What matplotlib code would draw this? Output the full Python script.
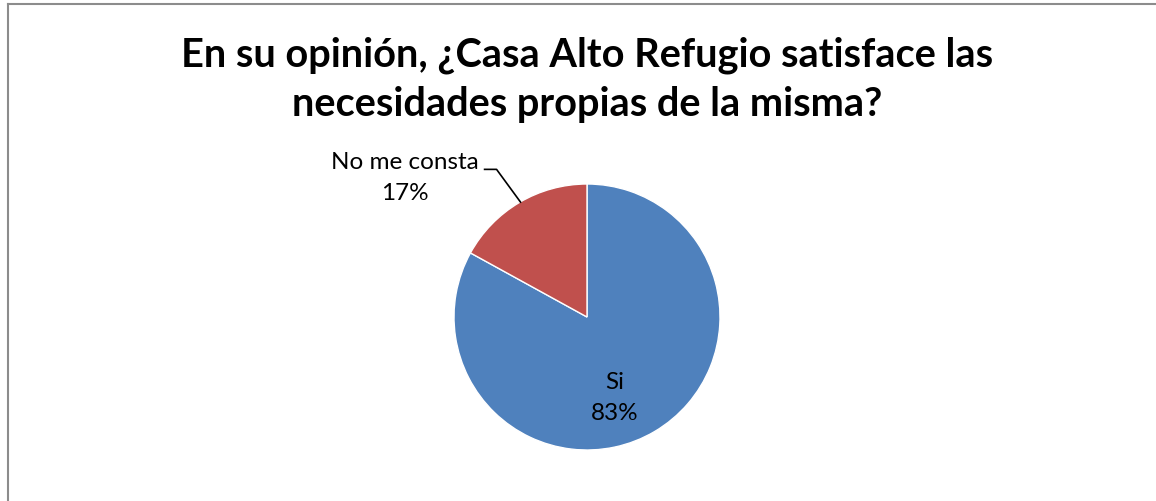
import matplotlib.pyplot as plt
from matplotlib.lines import Line2D

# datos
categorias = ['Si', 'No me consta']
porcentajes = [83, 17]
colores = ['#4F81BD', '#C0504D']
titulo = 'En su opinión, ¿Casa Alto Refugio satisface las\nnecesidades propias de la misma?'

plt.rcParams['font.family'] = ['Lato', 'DejaVu Sans']

fig = plt.figure(figsize=(11.56, 5.01), dpi=100)
fig.patch.set_facecolor('white')

# marco del grafico
fig.add_artist(Line2D([8/1156, 8/1156], [0, 1 - 4/501], color='#8c8c8c', lw=1.5))
fig.add_artist(Line2D([8/1156, 1], [1 - 4/501, 1 - 4/501], color='#8c8c8c', lw=1.5))

fig.text(0.508, 0.840, titulo, ha='center', va='center', fontsize=28.6,
         fontweight='bold', linespacing=1.4)

ax = fig.add_axes([(587 - 133) / 1156, (501 - 450) / 501, 266 / 1156, 266 / 501])
wedges, _ = ax.pie(porcentajes, colors=colores, startangle=90, counterclock=False,
                   wedgeprops=dict(edgecolor='white', linewidth=1))
ax.set_xlim(-1, 1)
ax.set_ylim(-1, 1)
ax.set_aspect('equal')
ax.axis('off')

ax.text(0.21, -0.61, categorias[0] + '\n' + str(porcentajes[0]) + '%', ha='center',
        va='center', fontsize=17.5, linespacing=1.55)
ax.text(-1.37, 1.045, categorias[1] + '\n' + str(porcentajes[1]) + '%', ha='center',
        va='center', fontsize=17.5, linespacing=1.55)
# linea guia
ax.plot([-0.77, -0.68, -0.50], [1.11, 1.11, 0.864], color='black', lw=1.2,
        clip_on=False)

fig.savefig('out.png', dpi=100)
